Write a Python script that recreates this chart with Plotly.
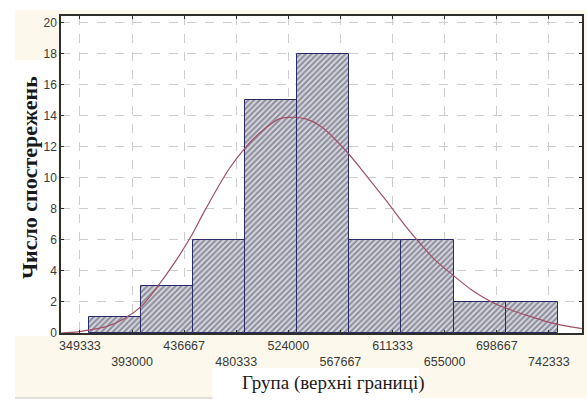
import plotly.graph_objects as go

# ---- data ----
bar_centers = [378666, 422333, 466000, 509667, 553333, 597000, 640667, 684333, 728000]
counts = [1, 3, 6, 15, 18, 6, 6, 2, 2]
bin_width = 43667

curve_x = [333720, 347663, 358767, 372710, 386653, 400512, 414455, 428398, 442257,
           454781, 474568, 488511, 502370, 516313, 524662, 538605, 552464, 573337,
           588699, 605397, 622095, 631780, 647142, 662421, 677699, 694397, 711095,
           727793, 744491, 761189, 770123]
curve_y = [0.0, 0.07, 0.22, 0.44, 0.93, 1.7, 3.0, 4.5, 6.2,
           8.0, 10.6, 12.0, 13.05, 13.8, 13.9, 13.8, 13.25, 11.65,
           10.2, 8.6, 6.9, 6.0, 4.7, 3.7, 2.77, 2.0, 1.47,
           1.04, 0.65, 0.39, 0.28]

tick_vals = [349333, 393000, 436667, 480333, 524000, 567667, 611333, 655000, 698667, 742333]
tick_labels = [str(v) for v in tick_vals]
y_ticks = list(range(0, 21, 2))

x_title = "Група (верхні границі)"
y_title = "Число спостережень"

# ---- figure ----
W, H = 587, 404
L, R, T, B = 61, 3, 16, 71
pw, ph = W - L - R, H - T - B

def px(x):
    return (x - L) / pw

def py(y):
    return (H - B - y) / ph

ticktext = [t if i % 2 == 0 else "<br>" + t for i, t in enumerate(tick_labels)]

fig = go.Figure()
fig.add_trace(go.Bar(
    x=bar_centers, y=counts, width=bin_width,
    marker=dict(
        color="#d0d0d8",
        line=dict(color="#2a2a66", width=1),
        pattern=dict(shape="/", fgcolor="#404055", bgcolor="#d8d8e0", size=4, solidity=0.52),
    ),
    showlegend=False,
))
fig.add_trace(go.Scatter(
    x=curve_x, y=curve_y, mode="lines",
    line=dict(color="#a05064", width=1.2, shape="spline"),
    showlegend=False,
))

cream = "#fcf9ec"
shapes = [
    dict(type="rect", xref="paper", yref="paper", layer="below",
         x0=px(15), x1=px(590), y0=py(398), y1=py(10), fillcolor=cream, line=dict(width=0)),
    dict(type="rect", xref="paper", yref="paper", layer="below",
         x0=0, x1=1, y0=0, y1=1, fillcolor="white", line=dict(width=0)),
    dict(type="rect", xref="paper", yref="paper", layer="below",
         x0=px(-2), x1=px(58), y0=py(336), y1=py(60), fillcolor="white", line=dict(width=0)),
    dict(type="rect", xref="paper", yref="paper", layer="below",
         x0=px(213), x1=px(420), y0=py(406), y1=py(368), fillcolor="white", line=dict(width=0)),
    dict(type="line", xref="paper", yref="paper", layer="below",
         x0=px(15), x1=px(213), y0=py(398), y1=py(398), line=dict(color="#d4d4d4", width=1.5)),
]

axis_common = dict(
    showline=True, linecolor="#2e2e2e", linewidth=1.5, mirror="allticks",
    ticks="inside", ticklen=3, tickcolor="#2e2e2e",
    showgrid=True, gridcolor="#cdcdcd", griddash="dash", gridwidth=1,
    zeroline=False,
)

fig.update_layout(
    width=W, height=H, autosize=False,
    margin=dict(l=L, r=R, t=T, b=B, pad=0),
    paper_bgcolor="white", plot_bgcolor="white",
    bargap=0,
    shapes=shapes,
    xaxis=dict(range=[333470, 770120], tickmode="array", tickvals=tick_vals,
               ticktext=ticktext,
               tickfont=dict(family="Liberation Sans, Arial", size=12.5, color="#3a3a3a"),
               **axis_common),
    yaxis=dict(range=[0, 20.43], tickmode="array", tickvals=y_ticks,
               tickfont=dict(family="Liberation Sans, Arial", size=12, color="#3a3a3a"),
               **axis_common),
    annotations=[
        dict(text="<b>" + y_title + "</b>", xref="paper", yref="paper", x=px(30), y=py(178),
             xanchor="center", yanchor="middle", textangle=-90, showarrow=False,
             font=dict(family="Liberation Serif, Times New Roman", size=22, color="#1a1a1a")),
        dict(text=x_title, xref="paper", yref="paper", x=px(335), y=py(383),
             xanchor="center", yanchor="middle", showarrow=False,
             font=dict(family="Liberation Serif, Times New Roman", size=19, color="#1a1a1a")),
    ],
)

fig.write_html("out.html")
